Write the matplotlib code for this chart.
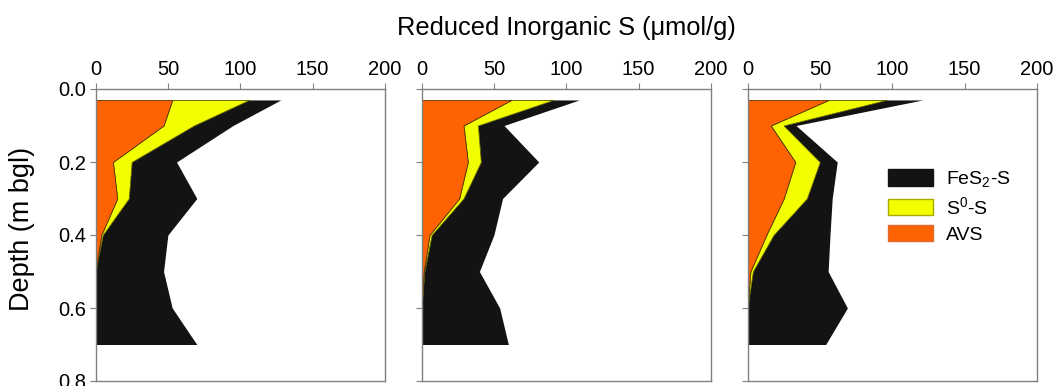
import matplotlib
matplotlib.use("Agg")
import matplotlib.pyplot as plt
from matplotlib.patches import Patch
import numpy as np

plt.rcParams['font.family'] = ['Liberation Sans', 'DejaVu Sans']
plt.rcParams['mathtext.fontset'] = 'custom'
plt.rcParams['mathtext.rm'] = 'Liberation Sans'
plt.rcParams['mathtext.it'] = 'Liberation Sans:italic'

# Depths (m bgl)
depth = [0.03, 0.1, 0.2, 0.3, 0.4, 0.5, 0.6, 0.7]

# Panel values (umol/g)
avs_1 = [53, 47, 12, 15, 4, 0, 0, 0]
s0_1 = [53, 21, 13, 8, 1, 0, 0, 0]
fes2_1 = [22, 27, 31, 47, 45, 47, 53, 70]

avs_2 = [62, 29, 32, 26, 5.5, 1.5, 0, 0]
s0_2 = [29, 10, 9, 3, 1.5, 0.5, 0, 0]
fes2_2 = [18, 18, 40, 27, 43, 38, 54, 60]

avs_3 = [56, 16, 33, 25, 13, 2, 0, 0]
s0_3 = [40, 9, 17, 16, 5, 1.7, 0, 0]
fes2_3 = [25, 8.5, 12, 17.5, 39, 52, 69, 54]

panels = [(avs_1, s0_1, fes2_1), (avs_2, s0_2, fes2_2), (avs_3, s0_3, fes2_3)]

xticks = [0, 50, 100, 150, 200]
yticks = [0.0, 0.2, 0.4, 0.6, 0.8]
labels = ['FeS$_\\mathregular{2}$-S', 'S$^\\mathregular{0}$-S', 'AVS']
c_fes2 = '#131313'
c_s0 = '#f2ff00'
c_avs = '#ff6200'
spine_c = '#808080'

W, H = 1055, 386
fig = plt.figure(figsize=(W / 100, H / 100), dpi=100)

lefts = [95.5, 421.5, 747.5]
top_px, bot_px = 89, 381
width_px = 289.5

for i, (avs, s0, fes2) in enumerate(panels):
    ax = fig.add_axes([lefts[i] / W, 1 - bot_px / H, width_px / W, (bot_px - top_px) / H])
    avs = np.array(avs, float)
    s0 = np.array(s0, float)
    fes2 = np.array(fes2, float)
    cum1 = avs
    cum2 = avs + s0
    cum3 = cum2 + fes2
    ax.fill_betweenx(depth, cum2, cum3, color=c_fes2, lw=0)
    ax.fill_betweenx(depth, cum1, cum2, facecolor=c_s0, edgecolor='#555500', lw=0.6)
    ax.fill_betweenx(depth, 0, cum1, facecolor=c_avs, edgecolor='#553300', lw=0.6)
    ax.set_xlim(0, 200)
    ax.set_ylim(0.8, 0.0)
    ax.xaxis.tick_top()
    ax.set_xticks(xticks)
    ax.set_yticks(yticks)
    ax.tick_params(axis='both', direction='out', length=4, width=0.8, color=spine_c,
                   labelsize=14.5, pad=3)
    if i == 0:
        ax.set_yticklabels([f'{v:.1f}' for v in yticks])
    else:
        ax.set_yticklabels([])
    for s in ax.spines.values():
        s.set_color(spine_c)
        s.set_linewidth(1.0)
    if i == 2:
        handles = [Patch(facecolor=c_fes2, edgecolor=c_fes2),
                   Patch(facecolor=c_s0, edgecolor='#aaaa00'),
                   Patch(facecolor=c_avs, edgecolor='#dd6a30')]
        fig.legend(handles, labels, loc='upper left',
                   bbox_to_anchor=(888 / W, 1 - 169 / H), frameon=False,
                   fontsize=14, handlelength=2.3, handleheight=0.95,
                   handletextpad=0.7, labelspacing=0.35, borderpad=0, borderaxespad=0)

fig.text(22 / W, 1 - 229 / H, 'Depth (m bgl)', ha='center', va='center',
         rotation=90, fontsize=19.5)
fig.text(566 / W, 1 - 28 / H, 'Reduced Inorganic S (μmol/g)', ha='center', va='center',
         fontsize=18.3)

fig.savefig('out.png', dpi=100)
